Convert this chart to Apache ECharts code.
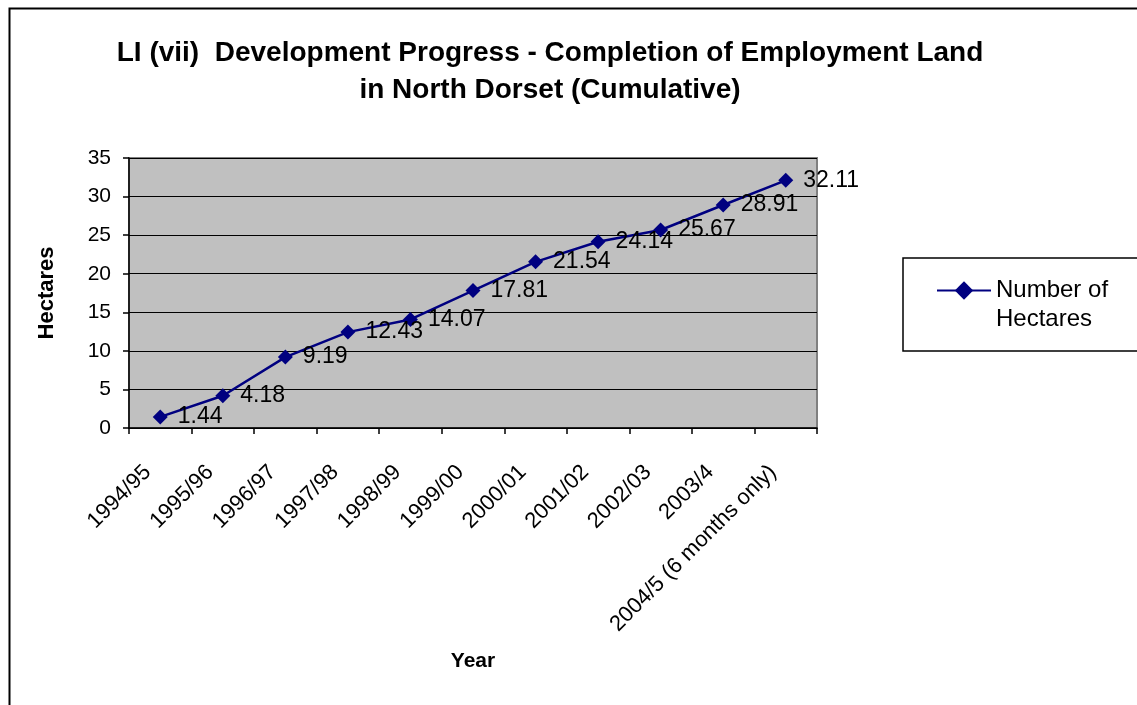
<!DOCTYPE html>
<html>
<head>
<meta charset="utf-8">
<script src="https://cdn.jsdelivr.net/npm/echarts@6/dist/echarts.min.js"></script>
<style>
html,body{margin:0;padding:0;background:#fff;}
#chart{width:1137px;height:705px;}
</style>
</head>
<body>
<div id="chart"></div>
<script>
var categories = ['1994/95','1995/96','1996/97','1997/98','1998/99','1999/00','2000/01','2001/02','2002/03','2003/4','2004/5 (6 months only)'];
var hectares = [1.44, 4.18, 9.19, 12.43, 14.07, 17.81, 21.54, 24.14, 25.67, 28.91, 32.11];
var yTicks = [0, 5, 10, 15, 20, 25, 30, 35];
var seriesName = 'Number of Hectares';
var titleText = 'LI (vii)  Development Progress - Completion of Employment Land\nin North Dorset (Cumulative)';

var FONT = '"Liberation Sans", Arial, sans-serif';
var chart = echarts.init(document.getElementById('chart'), null, {renderer: 'canvas'});
chart.setOption({
  animation: false,
  backgroundColor: '#ffffff',
  textStyle: {fontFamily: FONT},
  title: {
    text: titleText,
    left: 550,
    top: 35,
    textAlign: 'center',
    padding: 0,
    textStyle: {fontFamily: FONT, fontSize: 28, fontWeight: 'bold', color: '#000', lineHeight: 37}
  },
  graphic: [
    {type: 'rect', left: 7, top: 6, shape: {x: 0, y: 0, width: 1300, height: 900}, style: {fill: 'none', stroke: '#000', lineWidth: 2}, z: -10, silent: true},
    {type: 'rect', shape: {x: 903, y: 258, width: 300, height: 93}, style: {fill: 'none', stroke: '#000', lineWidth: 1.5}, z: 10, silent: true}
  ],
  legend: {
    data: [seriesName],
    left: 936,
    top: 247,
    padding: 0,
    itemWidth: 54,
    itemHeight: 23,
    formatter: function () { return ' \nNumber of\nHectares'; },
    textStyle: {fontFamily: FONT, fontSize: 24, color: '#000', lineHeight: 29}
  },
  grid: {
    left: 129, right: 320, top: 158, bottom: 277,
    show: true, backgroundColor: '#C0C0C0', borderColor: '#808080', borderWidth: 2
  },
  xAxis: {
    type: 'category',
    data: categories,
    boundaryGap: true,
    name: 'Year',
    nameLocation: 'middle',
    nameGap: 223,
    nameTextStyle: {fontFamily: FONT, fontSize: 21, fontWeight: 'bold', color: '#000'},
    axisLine: {show: true, lineStyle: {color: '#000', width: 1.5}},
    axisTick: {show: true, alignWithLabel: false, length: 6, lineStyle: {color: '#000', width: 1.5}},
    axisLabel: {rotate: 45, interval: 0, margin: 28, padding: [0, 18, 0, 0], fontFamily: FONT, fontSize: 22, color: '#000'},
    splitLine: {show: false}
  },
  yAxis: {
    type: 'value',
    min: yTicks[0],
    max: yTicks[yTicks.length - 1],
    interval: yTicks[1] - yTicks[0],
    name: 'Hectares',
    nameLocation: 'middle',
    nameRotate: 90,
    nameGap: 71,
    nameTextStyle: {fontFamily: FONT, fontSize: 22, fontWeight: 'bold', color: '#000'},
    axisLine: {show: true, lineStyle: {color: '#000', width: 1.5}},
    axisTick: {show: true, inside: false, length: 6, lineStyle: {color: '#000', width: 1.5}},
    axisLabel: {margin: 18, fontFamily: FONT, fontSize: 21, color: '#000'},
    splitLine: {show: true, lineStyle: {color: '#000', width: 1}}
  },
  series: [{
    name: seriesName,
    type: 'line',
    data: hectares,
    symbol: 'diamond',
    symbolSize: 15,
    lineStyle: {color: '#000080', width: 2.5},
    itemStyle: {color: '#000080'},
    label: {show: true, position: 'right', distance: 10, fontFamily: FONT, fontSize: 23, color: '#000'},
    z: 5
  }]
});
</script>
</body>
</html>
